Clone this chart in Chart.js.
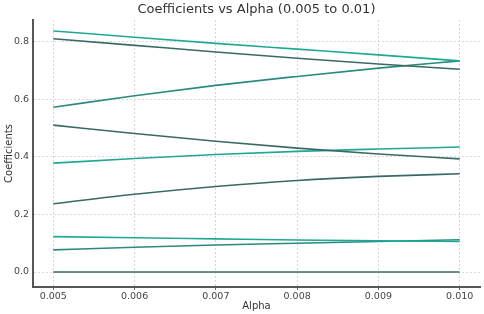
<!DOCTYPE html>
<html>
<head>
<meta charset="utf-8">
<script src="https://cdn.jsdelivr.net/npm/chart.js@4/dist/chart.umd.min.js"></script>
<style>
  html, body { margin: 0; padding: 0; background: #fff; }
  #wrap { width: 484px; height: 314px; }
</style>
</head>
<body>
<div id="wrap"><canvas id="c" width="484" height="314"></canvas></div>
<script>
// alpha values on the x axis
const alphas = [0.005, 0.006, 0.007, 0.008, 0.009, 0.010];

// coefficient paths
const coefA = [0.837, 0.815, 0.794, 0.774, 0.754, 0.733];
const coefB = [0.810, 0.787, 0.764, 0.742, 0.722, 0.704];
const coefC = [0.572, 0.612, 0.648, 0.679, 0.708, 0.733];
const coefD = [0.510, 0.481, 0.454, 0.430, 0.410, 0.393];
const coefE = [0.378, 0.394, 0.408, 0.419, 0.427, 0.434];
const coefF = [0.237, 0.270, 0.297, 0.318, 0.332, 0.341];
const coefG = [0.123, 0.119, 0.115, 0.111, 0.108, 0.106];
const coefH = [0.077, 0.086, 0.094, 0.100, 0.106, 0.112];
const coefI = [0.000, 0.000, 0.000, 0.000, 0.000, 0.000];

const xTicks = [0.005, 0.006, 0.007, 0.008, 0.009, 0.010];
const yTicks = [0.0, 0.2, 0.4, 0.6, 0.8];

const teal = '#1fa994';
const dark = '#3a6964';
const mid = '#2a8a7d';

const series = [
  [coefA, teal], [coefB, dark], [coefC, mid], [coefD, dark], [coefE, teal],
  [coefF, dark], [coefG, teal], [coefH, mid], [coefI, dark]
];

const datasets = series.map(([vals, color]) => ({
  data: alphas.map((a, i) => ({ x: a, y: vals[i] })),
  borderColor: color,
  borderWidth: 1.6,
  pointRadius: 0,
  cubicInterpolationMode: 'monotone',
  fill: false
}));

// titles drawn by hand so the plot box stays where it is
const titles = {
  id: 'titles',
  afterDraw(chart) {
    const { ctx, chartArea } = chart;
    ctx.save();
    ctx.fillStyle = '#333';
    ctx.textAlign = 'center';
    ctx.textBaseline = 'middle';
    ctx.font = '13px "DejaVu Sans"';
    ctx.fillText('Coefficients vs Alpha (0.005 to 0.01)', (chartArea.left + chartArea.right) / 2, 10);
    ctx.font = '10px "DejaVu Sans"';
    ctx.fillText('Alpha', (chartArea.left + chartArea.right) / 2, 306);
    ctx.translate(9, (chartArea.top + chartArea.bottom) / 2);
    ctx.rotate(-Math.PI / 2);
    ctx.fillText('Coefficients', 0, 0);
    ctx.restore();
  }
};

new Chart(document.getElementById('c'), {
  type: 'line',
  data: { datasets },
  options: {
    responsive: false,
    animation: false,
    layout: { padding: { top: 20, right: 4, left: 0, bottom: 0 } },
    plugins: { legend: { display: false }, tooltip: { enabled: false } },
    scales: {
      x: {
        type: 'linear',
        min: 0.00475,
        max: 0.01025,
        afterBuildTicks: (s) => { s.ticks = xTicks.map(v => ({ value: v })); },
        afterFit: (s) => { s.height = 27; },
        ticks: {
          color: '#444',
          font: { family: 'DejaVu Sans', size: 9.5 },
          padding: 1,
          maxRotation: 0,
          callback: (v) => v.toFixed(3)
        },
        grid: {
          color: '#d4d4d4',
          lineWidth: 1,
          tickLength: 3,
          tickColor: '#666',
          tickBorderDash: []
        },
        border: { color: '#555', width: 2, dash: [2, 2] }
      },
      y: {
        min: -0.052,
        max: 0.875,
        afterBuildTicks: (s) => { s.ticks = yTicks.map(v => ({ value: v })); },
        afterFit: (s) => { s.width = 33; },
        ticks: {
          color: '#444',
          font: { family: 'DejaVu Sans', size: 9.5 },
          padding: 2,
          callback: (v) => v.toFixed(1)
        },
        grid: {
          color: '#dadada',
          lineWidth: 1,
          tickLength: 2,
          tickColor: '#fff',
          tickBorderDash: []
        },
        border: { color: '#555', width: 2, dash: [2, 2] }
      }
    }
  },
  plugins: [titles]
});
</script>
</body>
</html>
